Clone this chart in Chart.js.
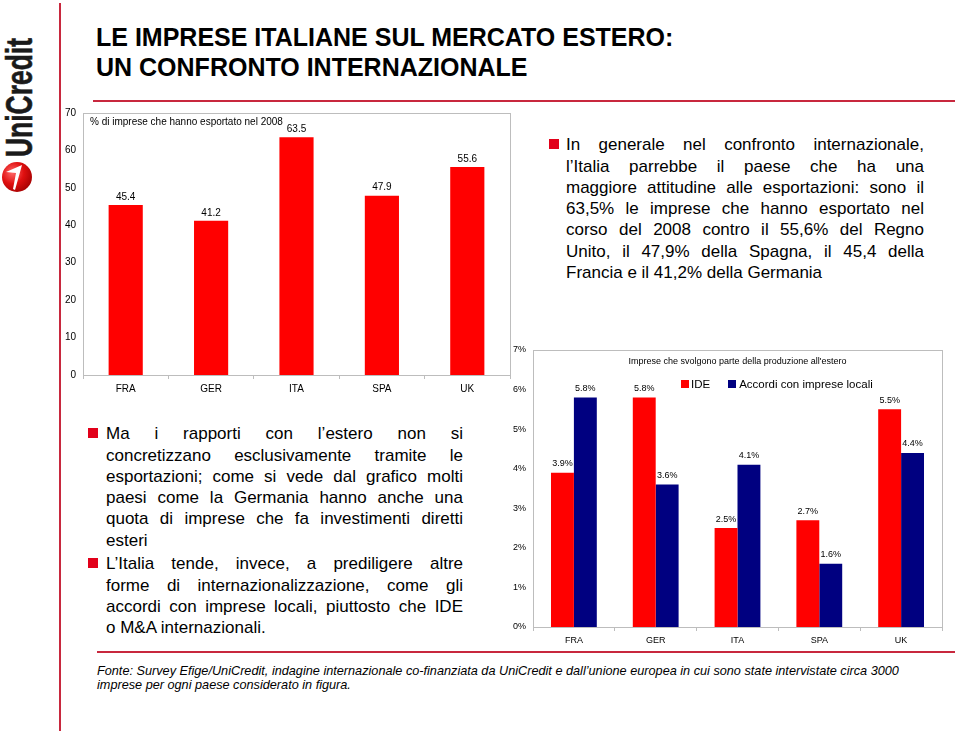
<!DOCTYPE html>
<html>
<head>
<meta charset="utf-8">
<script src="https://cdn.jsdelivr.net/npm/chart.js@4.4.0/dist/chart.umd.min.js"></script>
<style>
  html, body { margin:0; padding:0; background:#fff; }
  body { width:960px; height:734px; position:relative; overflow:hidden; font-family:"Liberation Sans", Arial, sans-serif; color:#000; }
  .abs { position:absolute; }
  .title { left:96px; top:22px; font-size:25px; font-weight:bold; line-height:30px; white-space:nowrap; }
  .redline { background:#C8283E; }
  .block { font-size:17px; line-height:21.3px; }
  .block .l { text-align:justify; text-align-last:justify; white-space:normal; }
  .block .last { text-align:left; text-align-last:left; }
  .bullet { position:absolute; width:10px; height:10px; background:#E2001A; }
  .foot { left:97px; top:664px; font-size:12.7px; line-height:14px; font-style:italic; white-space:nowrap; }
  .small { font-size:10px; white-space:nowrap; }
</style>
</head>
<body>
<!-- logo -->
<svg class="abs" style="left:0;top:0" width="50" height="200">
  <defs>
    <radialGradient id="rg" cx="0.35" cy="0.35" r="0.75">
      <stop offset="0" stop-color="#ff6a6a"/>
      <stop offset="0.5" stop-color="#e01010"/>
      <stop offset="1" stop-color="#a00000"/>
    </radialGradient>
  </defs>
  <text transform="translate(32,157) rotate(-90)" font-family="Liberation Sans, Arial" font-weight="bold" font-size="37" textLength="119" lengthAdjust="spacingAndGlyphs" fill="#1a1a1a" stroke="#1a1a1a" stroke-width="0.6">UniCredit</text>
  <circle cx="17" cy="177" r="15" fill="url(#rg)"/>
  <path d="M6,172 L22,165 L15,190 L13,189 L16,173 Z" fill="#fff"/>
</svg>
<div class="abs redline" style="left:59px;top:3px;width:2px;height:728px;"></div>

<div class="abs title">LE IMPRESE ITALIANE SUL MERCATO ESTERO:<br>UN CONFRONTO INTERNAZIONALE</div>
<div class="abs redline" style="left:93px;top:100px;width:862px;height:2px;"></div>

<!-- chart 1 -->
<canvas id="c1" class="abs" style="left:55px;top:100px;" width="460" height="300"></canvas>
<div class="abs small" style="left:90px;top:116px;">% di imprese che hanno esportato nel 2008</div>

<!-- right text block -->
<div class="bullet" style="left:549px;top:139px;"></div>
<div class="abs block" style="left:566px;top:134.3px;width:358px;">
  <div class="l">In generale nel confronto internazionale,</div>
  <div class="l">l’Italia parrebbe il paese che ha una</div>
  <div class="l">maggiore attitudine alle esportazioni: sono il</div>
  <div class="l">63,5% le imprese che hanno esportato nel</div>
  <div class="l">corso del 2008 contro il 55,6% del Regno</div>
  <div class="l">Unito, il 47,9% della Spagna, il 45,4 della</div>
  <div class="l last">Francia e il 41,2% della Germania</div>
</div>

<!-- chart 2 -->
<canvas id="c2" class="abs" style="left:495px;top:335px;" width="460" height="315"></canvas>
<div class="abs" style="left:533px;width:409px;top:356px;text-align:center;font-size:9px;white-space:nowrap;">Imprese che svolgono parte della produzione all'estero</div>
<div class="abs" style="left:681px;top:377px;font-size:11.5px;white-space:nowrap;line-height:14px;">
  <span style="display:inline-block;width:8px;height:8px;background:#FF0000;vertical-align:0px;"></span><span style="margin-left:2px;">IDE</span><span style="display:inline-block;width:8px;height:8px;background:#000080;margin-left:18px;vertical-align:0px;"></span><span style="margin-left:3px;">Accordi con imprese locali</span>
</div>

<!-- left text block -->
<div class="bullet" style="left:88px;top:428px;"></div>
<div class="bullet" style="left:88px;top:558px;"></div>
<div class="abs block" style="left:106px;top:423.3px;width:357px;">
  <div class="l">Ma i rapporti con l’estero non si</div>
  <div class="l">concretizzano esclusivamente tramite le</div>
  <div class="l">esportazioni; come si vede dal grafico molti</div>
  <div class="l">paesi come la Germania hanno anche una</div>
  <div class="l">quota di imprese che fa investimenti diretti</div>
  <div class="l last">esteri</div>
  <div class="l" style="margin-top:2.3px;">L’Italia tende, invece, a prediligere altre</div>
  <div class="l">forme di internazionalizzazione, come gli</div>
  <div class="l">accordi con imprese locali, piuttosto che IDE</div>
  <div class="l last">o M&amp;A internazionali.</div>
</div>

<div class="abs redline" style="left:97px;top:651px;width:858px;height:2px;"></div>
<div class="abs foot">Fonte: Survey Efige/UniCredit, indagine internazionale co-finanziata da UniCredit e dall’unione europea in cui sono state intervistate circa 3000<br>imprese per ogni paese considerato in figura.</div>

<script>
// ---- data ----
const countries = ["FRA", "GER", "ITA", "SPA", "UK"];
const exportShare = [45.4, 41.2, 63.5, 47.9, 55.6];
const ideShare = [3.9, 5.8, 2.5, 2.7, 5.5];
const accordiShare = [5.8, 3.6, 4.1, 1.6, 4.4];
const seriesNames = ["IDE", "Accordi con imprese locali"];
const yTicks1 = [0, 10, 20, 30, 40, 50, 60, 70];
const yTicks2 = ["0%", "1%", "2%", "3%", "4%", "5%", "6%", "7%"];

const FONT = "'Liberation Sans', Arial, sans-serif";
const GRAY = "#BDBDBD";

const boxPlugin = {
  id: 'box',
  afterDraw(chart) {
    const a = chart.chartArea, ctx = chart.ctx;
    ctx.save();
    ctx.strokeStyle = GRAY; ctx.lineWidth = 1;
    ctx.strokeRect(Math.round(a.left) + 0.5, Math.round(a.top) + 0.5, Math.round(a.right - a.left), Math.round(a.bottom - a.top));
    ctx.restore();
  }
};
function labelPlugin(fmt, size, off) {
  return {
    id: 'vlabels',
    afterDatasetsDraw(chart) {
      const ctx = chart.ctx;
      ctx.save();
      ctx.fillStyle = '#000';
      ctx.font = size + 'px ' + FONT;
      ctx.textAlign = 'center';
      ctx.textBaseline = 'middle';
      chart.data.datasets.forEach((ds, i) => {
        chart.getDatasetMeta(i).data.forEach((el, j) => {
          ctx.fillText(fmt(ds.data[j]), el.x, el.y - off);
        });
      });
      ctx.restore();
    }
  };
}

new Chart(document.getElementById('c1'), {
  type: 'bar',
  data: {
    labels: countries,
    datasets: [{ data: exportShare, backgroundColor: '#FF0000', borderWidth: 0, barPercentage: 0.4, categoryPercentage: 1 }]
  },
  options: {
    responsive: false, animation: false,
    layout: { padding: { left: 0, top: 11, right: 5, bottom: 0 } },
    plugins: { legend: { display: false }, tooltip: { enabled: false } },
    scales: {
      x: {
        grid: { display: true, drawOnChartArea: false, drawTicks: true, tickLength: 4, color: GRAY },
        border: { display: false },
        ticks: { color: '#000', font: { family: FONT, size: 10 }, padding: 4 },
        afterFit: s => { s.height = 25; }
      },
      y: {
        min: 0, max: 70,
        afterBuildTicks: s => { s.ticks = yTicks1.map(v => ({ value: v })); },
        grid: { display: false, drawTicks: false },
        border: { display: false },
        ticks: { color: '#000', font: { family: FONT, size: 10 }, padding: 7 },
        afterFit: s => { s.width = 28; }
      }
    }
  },
  plugins: [boxPlugin, labelPlugin(v => v.toFixed(1), 10, 8)]
});

new Chart(document.getElementById('c2'), {
  type: 'bar',
  data: {
    labels: countries,
    datasets: [
      { label: seriesNames[0], data: ideShare, backgroundColor: '#FF0000', borderWidth: 0, barPercentage: 1, categoryPercentage: 0.56 },
      { label: seriesNames[1], data: accordiShare, backgroundColor: '#000080', borderWidth: 0, barPercentage: 1, categoryPercentage: 0.56 }
    ]
  },
  options: {
    responsive: false, animation: false,
    layout: { padding: { left: 0, top: 15, right: 13, bottom: 0 } },
    plugins: { legend: { display: false }, tooltip: { enabled: false } },
    scales: {
      x: {
        grid: { display: true, drawOnChartArea: false, drawTicks: true, tickLength: 4, color: GRAY },
        border: { display: false },
        ticks: { color: '#000', font: { family: FONT, size: 9 }, padding: 4 },
        afterFit: s => { s.height = 23; }
      },
      y: {
        min: 0, max: 7,
        afterBuildTicks: s => { s.ticks = yTicks2.map((t, i) => ({ value: i })); },
        grid: { display: false, drawTicks: false },
        border: { display: false },
        ticks: { color: '#000', font: { family: FONT, size: 9 }, padding: 7, callback: (v, i) => yTicks2[i] },
        afterFit: s => { s.width = 38; }
      }
    }
  },
  plugins: [boxPlugin, labelPlugin(v => v.toFixed(1) + '%', 9, 9)]
});
</script>
</body>
</html>
